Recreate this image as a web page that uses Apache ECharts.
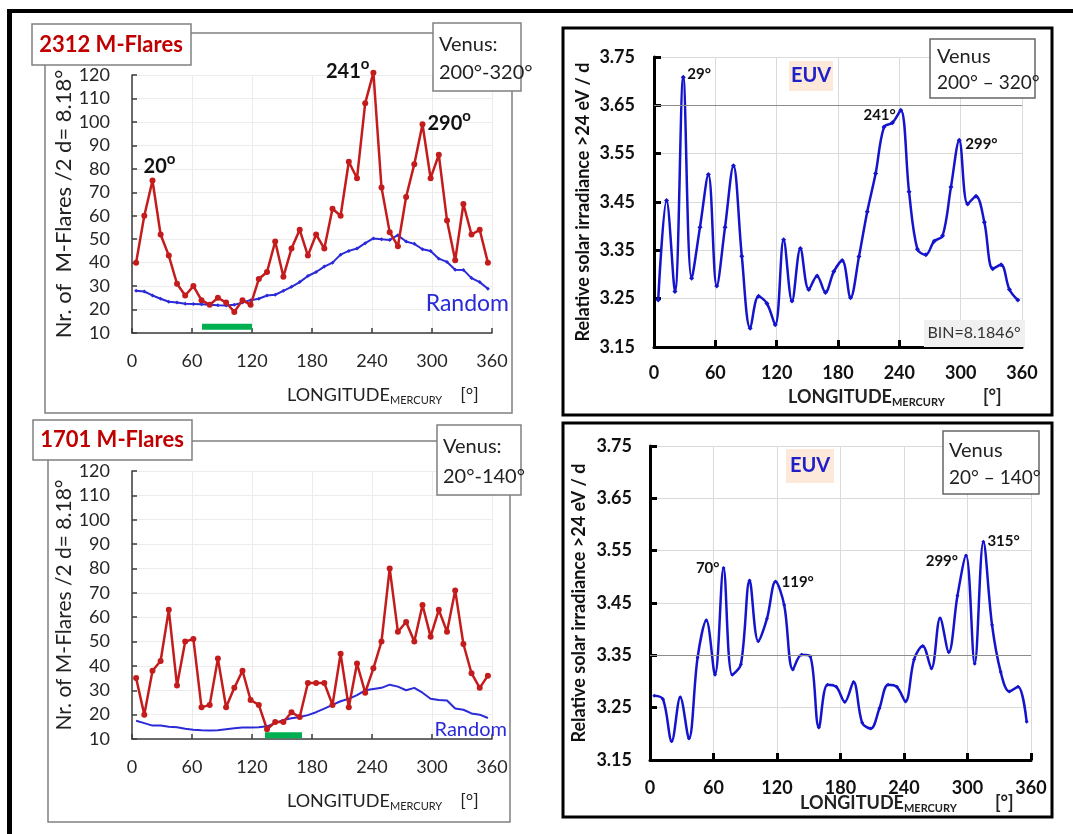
<!DOCTYPE html>
<html><head><meta charset="utf-8">
<script src="https://cdn.jsdelivr.net/npm/echarts@6/dist/echarts.min.js"></script>
<style>html,body{margin:0;padding:0;background:#fff}#c{width:1073px;height:834px}</style>
</head><body><div id="c"></div>
<script>
// ---- data ----
const longitudes = [4.1,12.3,20.5,28.6,36.8,45.0,53.2,61.4,69.5,77.7,85.9,94.1,102.3,110.5,118.6,126.8,135.0,143.2,151.4,159.5,167.7,175.9,184.1,192.3,200.5,208.6,216.8,225.0,233.2,241.4,249.5,257.7,265.9,274.1,282.3,290.5,298.6,306.8,315.0,323.2,331.4,339.5,347.7,355.9];
const xTicks = [0,60,120,180,240,300,360];
const flareTicks = [10,120,10];      // min, max, step
const euvTicks = [3.15,3.75,0.1];    // min, max, step

const flares2312 = [40,60,75,52,43,31,26,30,24,22,25,23,19,24,22,33,36,49,34,46,54,43,52,46,63,60,83,76,108,121,72,53,47,68,82,99,76,86,58,41,65,52,54,40];
const random2312 = [28,27.7,26,24.6,23.3,23,22.5,22.4,22.3,22,21.8,21.7,22,23,24,24.6,26,26.3,28,29.7,31.7,34.3,36,38.3,40,43.4,45,46,48.3,50.3,50,49.7,51.7,49,48,45.7,45,41.7,40.3,37,36.9,33.4,31.7,28.9];
const flares1701 = [35,20,38,42,63,32,50,51,23,24,43,23,31,38,26,24,14,17,17,21,19,33,33,33,24,45,23,41,29,39,50,80,54,58,50,65,52,63,54,71,49,37,31,36];
const random1701 = [17.5,16.5,15.5,15.5,15,14.8,14.2,13.8,13.6,13.5,13.6,14,14.4,14.7,14.7,14.8,15.2,16.5,17.8,18.5,19,19.8,21,22.5,24,25.5,26.5,28,30,30.5,31,32.3,31.5,30,31,29,26.5,26,25.8,22.5,22,20.5,20,18.6];
const euvTop = [3.247,3.453,3.265,3.708,3.292,3.398,3.507,3.276,3.398,3.525,3.338,3.189,3.255,3.240,3.196,3.372,3.245,3.354,3.269,3.297,3.263,3.306,3.329,3.252,3.337,3.430,3.509,3.605,3.614,3.640,3.471,3.352,3.341,3.369,3.380,3.481,3.578,3.446,3.462,3.408,3.312,3.320,3.269,3.247];
const euvBottom = [3.273,3.266,3.186,3.270,3.191,3.346,3.417,3.313,3.517,3.313,3.333,3.493,3.377,3.420,3.491,3.446,3.323,3.351,3.348,3.212,3.294,3.290,3.261,3.299,3.221,3.210,3.249,3.294,3.290,3.262,3.342,3.368,3.325,3.421,3.356,3.464,3.541,3.334,3.567,3.408,3.318,3.281,3.290,3.223];
const greenTop = [70,120,12.7];      // from, to, level
const greenBottom = [133,170,11.5];
const refLineTop = [3.65];
const refLineBottom = [3.35];
// peak annotations: [bin index, text]
const peaks2312 = [[2,'20'],[29,'241'],[35,'290']];
const peaksEuvTop = [[3,'29°'],[29,'241°'],[36,'299°']];
const peaksEuvBottom = [[8,'70°'],[14,'119°'],[36,'299°'],[38,'315°']];

// ---- chart ----
const F = 'Lato, "Open Sans", sans-serif';
const RED = '#c41c1c', BLUE = '#2a2ad8', EUV = '#1414cc';
const pairs = v => longitudes.map((x,i)=>[x,v[i]]);

function flareX(g){return {gridIndex:g,type:'value',min:xTicks[0],max:xTicks[xTicks.length-1],interval:xTicks[1]-xTicks[0],
  axisLine:{show:true,lineStyle:{color:'#3c3c3c',width:1.5}},axisTick:{show:true,inside:true,length:5,lineStyle:{color:'#3c3c3c',width:1.5}},
  axisLabel:{margin:19,fontSize:18,color:'#262626',fontFamily:F},splitLine:{show:true,lineStyle:{color:'#ececec',width:1}}};}
function flareY(g,gap,fs){return {gridIndex:g,type:'value',min:flareTicks[0],max:flareTicks[1],interval:flareTicks[2],
  name:g===0?'Nr. of  M-Flares /2 d= 8.18°':'Nr. of M-Flares /2 d= 8.18°',nameLocation:'middle',nameGap:gap,
  nameTextStyle:{fontSize:fs,color:'#222',fontFamily:F},
  axisLine:{show:true,lineStyle:{color:'#3c3c3c',width:1.5}},axisTick:{show:true,inside:true,length:5,lineStyle:{color:'#3c3c3c',width:1.5}},
  axisLabel:{margin:22,fontSize:18,color:'#262626',fontFamily:F},splitLine:{show:true,lineStyle:{color:'#ececec',width:1}}};}
function euvX(g,m){return {gridIndex:g,type:'value',min:xTicks[0],max:xTicks[xTicks.length-1],interval:xTicks[1]-xTicks[0],
  axisLine:{show:true,lineStyle:{color:'#000',width:3}},axisTick:{show:true,inside:true,length:7,lineStyle:{color:'#000',width:3}},
  axisLabel:{margin:m,fontSize:18,fontWeight:'bold',color:'#111',fontFamily:F},splitLine:{show:true,lineStyle:{color:'#dadada',width:1}}};}
function euvY(g,gap,m){return {gridIndex:g,type:'value',min:euvTicks[0],max:euvTicks[1],interval:euvTicks[2],
  name:'Relative solar irradiance >24 eV / d',nameLocation:'middle',nameGap:gap,
  nameTextStyle:{fontSize:18,fontWeight:'bold',color:'#111',fontFamily:F},
  axisLine:{show:true,lineStyle:{color:'#000',width:3}},axisTick:{show:true,inside:true,length:7,lineStyle:{color:'#000',width:3}},
  axisLabel:{margin:m,fontSize:18,fontWeight:'bold',color:'#111',fontFamily:F,formatter:v=>v.toFixed(2)},
  splitLine:{show:true,lineStyle:{color:'#dadada',width:1}}};}

function peakMarks(vals,list,styles,rich,ymax){
  return {symbol:'circle',symbolSize:0,itemStyle:{color:'transparent'},silent:true,
    data:list.map(([i,t],k)=>({coord:[longitudes[i],ymax!==undefined?Math.min(vals[i],ymax):vals[i]],
      label:Object.assign({show:true,formatter:rich?('{n|'+t+'}{s|o}'):t,color:'#111',fontFamily:F,fontWeight:'bold',fontSize:15,
        rich:rich||undefined},styles[k])}))};
}
const richDeg = {n:{fontSize:20,fontWeight:'bold',fontFamily:F,color:'#111',lineHeight:30,verticalAlign:'middle'},
                 s:{fontSize:15,fontWeight:'bold',fontFamily:F,color:'#111',verticalAlign:'top',lineHeight:12}};

function refLine(v){return {symbol:'none',silent:true,label:{show:false},lineStyle:{color:'#8c8c8c',type:'solid',width:1.2},data:v.map(y=>({yAxis:y}))};}

const series = [
  {type:'line',xAxisIndex:0,yAxisIndex:0,data:pairs(random2312),symbol:'diamond',symbolSize:4,lineStyle:{color:BLUE,width:2},itemStyle:{color:BLUE},z:3},
  {type:'line',xAxisIndex:0,yAxisIndex:0,data:[[greenTop[0],greenTop[2]],[greenTop[1],greenTop[2]]],symbol:'none',lineStyle:{color:'#00b050',width:6},z:3},
  {type:'line',xAxisIndex:0,yAxisIndex:0,data:pairs(flares2312),clip:false,symbol:'circle',symbolSize:6,lineStyle:{color:RED,width:2.5},itemStyle:{color:RED},z:4,
    markPoint:peakMarks(flares2312,peaks2312,[{align:'center',offset:[7,-14]},{align:'right',offset:[-4,-3]},{align:'left',offset:[5,-1]}],richDeg,flareTicks[1])},
  {type:'line',xAxisIndex:1,yAxisIndex:1,data:pairs(euvTop),smooth:0.35,symbol:'diamond',symbolSize:5,lineStyle:{color:EUV,width:2.5},itemStyle:{color:EUV},z:4,
    markLine:refLine(refLineTop),
    markPoint:peakMarks(euvTop,peaksEuvTop,[{align:'left',offset:[4,-3]},{align:'right',offset:[-5,5]},{align:'left',offset:[6,4]}])},
  {type:'line',xAxisIndex:2,yAxisIndex:2,data:pairs(random1701),symbol:'none',lineStyle:{color:BLUE,width:2},z:3},
  {type:'line',xAxisIndex:2,yAxisIndex:2,data:[[greenBottom[0],greenBottom[2]],[greenBottom[1],greenBottom[2]]],symbol:'none',lineStyle:{color:'#00b050',width:6},z:3},
  {type:'line',xAxisIndex:2,yAxisIndex:2,data:pairs(flares1701),symbol:'circle',symbolSize:6,lineStyle:{color:RED,width:2.5},itemStyle:{color:RED},z:4},
  {type:'line',xAxisIndex:3,yAxisIndex:3,data:pairs(euvBottom),smooth:0.35,symbol:'diamond',symbolSize:4,lineStyle:{color:EUV,width:2.5},itemStyle:{color:EUV},z:4,
    markLine:refLine(refLineBottom),
    markPoint:peakMarks(euvBottom,peaksEuvBottom,[{align:'right',offset:[-4,0]},{align:'left',offset:[6,1]},{align:'right',offset:[-8,6]},{align:'left',offset:[4,-1]}])}
];

function rect(x,y,w,h,stroke,lw,fill,z){return {type:'rect',shape:{x,y,width:w,height:h},style:{fill:fill||'none',stroke,lineWidth:lw},z:z||0,silent:true};}
function txt(x,y,text,font,color,align){return {type:'text',x,y,z:20,silent:true,style:{text,font,fill:color,textAlign:align||'left',textVerticalAlign:'middle'}};}
function xname(x,y,bold){const w=bold?'bold':'normal';return {type:'text',x,y,z:20,silent:true,style:{text:'{a|LONGITUDE}{b|MERCURY}{c|[°]}',textVerticalAlign:'middle',
  rich:{a:{fontSize:18,fontWeight:w,fontFamily:F,fill:'#222',verticalAlign:'middle',lineHeight:22},
        b:{fontSize:11,fontWeight:w,fontFamily:F,fill:'#222',verticalAlign:'bottom',lineHeight:12},
        c:{fontSize:18,fontWeight:w,fontFamily:F,fill:'#222',verticalAlign:'middle',lineHeight:22,padding:[0,0,0,bold?38:18]}}}};}

const graphic = [
  rect(7,9,1066,4,'#000',0,'#000',1),
  rect(7,9,5,825,'#000',0,'#000',1),
  // top-left panel
  rect(45,33,467,380,'#808080',1.5,null,1),
  rect(32,24,159,41,'#808080',1.5,'#fff',10),
  txt(111,45,'2312 M-Flares','bold 22px '+F,'#c00000','center'),
  rect(433,23,88,68,'#808080',1.5,'#fff',10),
  txt(439,45,'Venus:','20px '+F,'#222'),
  txt(439,73,'200°-320°','20px '+F,'#222'),
  txt(509,304,'Random','23px '+F,BLUE,'right'),
  xname(287,395,false),
  // top-right panel
  rect(563,28,489,387,'#000',3,null,1),
  rect(930,39,105,59,'#666',1.5,'#fff',10),
  txt(937,57,'Venus','20px '+F,'#222'),
  txt(937,83,'200° – 320°','19px '+F,'#222'),
  rect(789,61,44,30,'#fde9d9',0,'#fde9d9',10),
  txt(811,76,'EUV','bold 20px '+F,'#2020c8','center'),
  rect(924,320,101,27,'#f0f0f0',0,'#f0f0f0',10),
  txt(974,333,'BIN=8.1846°','16px '+F,'#333','center'),
  xname(788,397,true),
  // bottom-left panel
  rect(48,441,462,381,'#808080',1.5,null,1),
  rect(33,420,159,40,'#808080',1.5,'#fff',10),
  txt(112,440,'1701 M-Flares','bold 22px '+F,'#c00000','center'),
  rect(437,425,84,70,'#808080',1.5,'#fff',10),
  txt(443,447,'Venus:','20px '+F,'#222'),
  txt(443,477,'20°-140°','20px '+F,'#222'),
  txt(507,730,'Random','20px '+F,BLUE,'right'),
  xname(287,801,false),
  // bottom-right panel
  rect(563,423,489,394,'#000',3,null,1),
  rect(943,431,96,63,'#666',1.5,'#fff',10),
  txt(949,451,'Venus','20px '+F,'#222'),
  txt(949,478,'20° – 140°','19px '+F,'#222'),
  rect(786,449,48,34,'#fde9d9',0,'#fde9d9',10),
  txt(810,466,'EUV','bold 20px '+F,'#2020c8','center'),
  xname(800,803,true)
];

const option = {
  animation:false,
  backgroundColor:'#fff',
  grid:[{left:132,top:75,width:360,height:258},{left:654,top:57,width:368,height:290},{left:132,top:471,width:360,height:268},{left:650,top:446,width:381,height:314}],
  xAxis:[flareX(0),euvX(1,17),flareX(2),euvX(3,19)],
  yAxis:[flareY(0,55,22),euvY(1,62,19),flareY(2,55,21),euvY(3,62,18)],
  series,
  graphic
};
echarts.init(document.getElementById('c')).setOption(option);
</script></body></html>
